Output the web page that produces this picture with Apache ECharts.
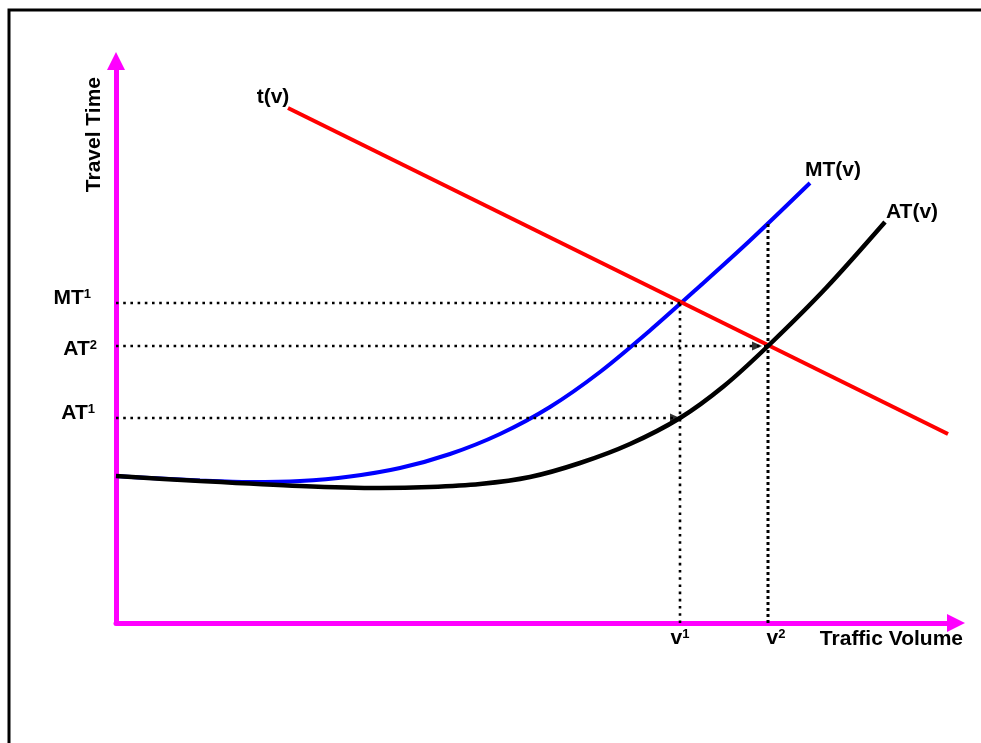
<!DOCTYPE html>
<html>
<head>
<meta charset="utf-8">
<script src="https://cdn.jsdelivr.net/npm/echarts@6/dist/echarts.min.js"></script>
<style>
html,body{margin:0;padding:0;background:#fff;}
#chart{width:981px;height:743px;}
</style>
</head>
<body>
<div id="chart"></div>
<script>
// ---- data (units: arbitrary, origin at axis crossing) ----
const xMax = 840;
const yMax = 562;
const tCurve  = [[172, 515], [832, 189]];
const mtCurve = [[0, 147], [34, 145], [84, 142.5], [134, 141], [184, 142], [234, 146.5], [284, 155], [334, 169], [384, 189], [434, 216], [484, 251], [534, 292.5], [584, 337], [634, 382.5], [694, 440]];
const atCurve = [[0, 147], [84, 142], [184, 137], [264, 135], [314, 136], [364, 139], [414, 146], [464, 160], [514, 179], [564, 205], [608, 237], [652, 277], [710, 335], [769, 401]];
const curveNames = ['t(v)', 'MT(v)', 'AT(v)'];
const xTicks = [564, 652];
const xTickLabels = [['v', '1'], ['v', '2']];
const yTicks = [320, 277, 205];
const yTickLabels = [['MT', '1'], ['AT', '2'], ['AT', '1']];
const hGuideEnds = [564, 652, 564];   // horizontal guides from y axis to these x
const vGuideTops = [320, 401];        // vertical guides from x axis up to these y
const arrowPts = [[641, 277], [559, 205]];
const axisNames = ['Traffic Volume', 'Travel Time'];

// ---- styling ----
const FONT = 'Liberation Sans, Arial, sans-serif';
const MAGENTA = '#FF00FF';
const txt = {fontFamily: FONT, fontWeight: 'bold', fontSize: 21, color: '#000', opacity: 1};
const rich = {
  b: {fontFamily: FONT, fontWeight: 'bold', fontSize: 21, color: '#000'},
  s: {fontFamily: FONT, fontWeight: 'bold', fontSize: 13, color: '#000', verticalAlign: 'top'}
};
const supText = (pair) => '{b|' + pair[0] + '}{s|' + pair[1] + '}';
const xTickLabelOffsets = [[0, 0], [8, 0]];
const yTickLabelLayout = [{distance: 25, offset: [0, -5]}, {distance: 19, offset: [0, 3]}, {distance: 21, offset: [0, -5]}];
const curveNameOffsets = [[-15, -11], [23, -13], [27, -10]];
const dotted = {color: '#000', width: 2.6, type: [2.6, 4.6], cap: 'butt'};

const series = [];
series.push({type: 'line', name: 'MT(v)', data: mtCurve, smooth: 0.3, showSymbol: false, symbol: 'none',
  lineStyle: {color: '#0000FF', width: 4}, z: 3});
series.push({type: 'line', name: 't(v)', data: tCurve, showSymbol: false, symbol: 'none',
  lineStyle: {color: '#FF0000', width: 4}, z: 4});
series.push({type: 'line', name: 'AT(v)', data: atCurve, smooth: 0.3, showSymbol: false, symbol: 'none',
  lineStyle: {color: '#000000', width: 4.5}, z: 5});
// guides
yTicks.forEach((y, i) => {
  series.push({type: 'line', data: [[0, y], [hGuideEnds[i], y]], showSymbol: false, symbol: 'none',
    lineStyle: dotted, z: 6, silent: true});
});
xTicks.forEach((x, i) => {
  series.push({type: 'line', data: [[x, 0], [x, vGuideTops[i]]], showSymbol: false, symbol: 'none',
    lineStyle: Object.assign({}, dotted, i === 1 ? {type: [3, 3], width: 3} : {}), z: 6, silent: true});
});
series.push({type: 'scatter', data: arrowPts, symbol: 'triangle', symbolRotate: -90, symbolSize: [9, 10],
  itemStyle: {color: '#000'}, z: 7, silent: true});
// tick labels
series.push({type: 'scatter', symbolSize: 0, silent: true, z: 8,
  data: xTicks.map((x, i) => ({value: [x, 0], label: {show: true, position: 'bottom', distance: 5,
    offset: xTickLabelOffsets[i], formatter: supText(xTickLabels[i]), rich: rich}})),
  label: Object.assign({show: true, rich: rich}, txt)});
series.push({type: 'scatter', symbolSize: 0, silent: true, z: 8,
  data: yTicks.map((y, i) => ({value: [0, y], label: {show: true, position: 'left',
    distance: yTickLabelLayout[i].distance, offset: yTickLabelLayout[i].offset,
    formatter: supText(yTickLabels[i]), rich: rich}})),
  label: Object.assign({show: true, rich: rich}, txt)});
// curve names
const namePts = [tCurve[0], mtCurve[mtCurve.length - 1], atCurve[atCurve.length - 1]];
series.push({type: 'scatter', symbolSize: 0, silent: true, z: 8,
  data: namePts.map((p, i) => ({value: p, label: {show: true, position: 'inside',
    offset: curveNameOffsets[i], formatter: curveNames[i]}})),
  label: Object.assign({show: true}, txt)});

const axisLineCommon = {show: true, onZero: false, symbol: ['none', 'triangle'], symbolSize: [18, 18],
  lineStyle: {color: MAGENTA, width: 5}};

const option = {
  animation: false,
  backgroundColor: '#fff',
  grid: {left: 116, right: 25, top: 61, bottom: 120, containLabel: false},
  xAxis: {type: 'value', min: 0, max: xMax, axisLine: axisLineCommon,
    axisTick: {show: false}, axisLabel: {show: false}, splitLine: {show: false},
    name: axisNames[0], nameLocation: 'end', nameGap: 7,
    nameTextStyle: Object.assign({align: 'right', verticalAlign: 'top', padding: [6, 0, 0, 0]}, txt)},
  yAxis: {type: 'value', min: 0, max: yMax, axisLine: axisLineCommon,
    axisTick: {show: false}, axisLabel: {show: false}, splitLine: {show: false},
    name: axisNames[1], nameLocation: 'end', nameGap: -16, nameRotate: 90,
    nameTextStyle: Object.assign({align: 'right', verticalAlign: 'bottom', padding: [0, 0, 11, 0]}, txt)},
  graphic: [{type: 'rect', shape: {x: 9, y: 10, width: 1000, height: 800},
    style: {fill: null, stroke: '#000', lineWidth: 3}, silent: true, z: 100}],
  series: series
};
const chart = echarts.init(document.getElementById('chart'), null, {renderer: 'canvas'});
chart.setOption(option);
</script>
</body>
</html>
